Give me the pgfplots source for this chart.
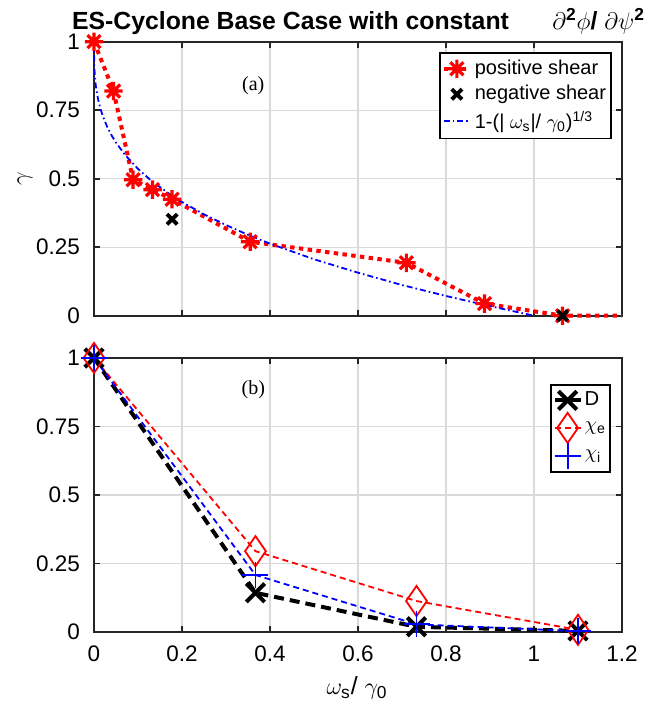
\documentclass[border=0pt]{standalone}
\usepackage{amsmath}
\usepackage{fontspec}
\setmainfont{Liberation Sans}
\newfontfamily\serifface{Liberation Serif}
\usepackage{pgfplots}
\pgfplotsset{compat=1.18}

% eight-armed asterisk (plus and cross combined)
\pgfdeclareplotmark{star8}{%
  \pgfpathmoveto{\pgfqpoint{-\pgfplotmarksize}{0pt}}\pgfpathlineto{\pgfqpoint{\pgfplotmarksize}{0pt}}%
  \pgfpathmoveto{\pgfqpoint{0pt}{-\pgfplotmarksize}}\pgfpathlineto{\pgfqpoint{0pt}{\pgfplotmarksize}}%
  \pgfpathmoveto{\pgfqpoint{-.707\pgfplotmarksize}{-.707\pgfplotmarksize}}\pgfpathlineto{\pgfqpoint{.707\pgfplotmarksize}{.707\pgfplotmarksize}}%
  \pgfpathmoveto{\pgfqpoint{-.707\pgfplotmarksize}{.707\pgfplotmarksize}}\pgfpathlineto{\pgfqpoint{.707\pgfplotmarksize}{-.707\pgfplotmarksize}}%
  \pgfusepathqstroke}
% tall open diamond
\pgfdeclareplotmark{tdiamond}{%
  \pgfpathmoveto{\pgfqpoint{0pt}{1.45\pgfplotmarksize}}%
  \pgfpathlineto{\pgfqpoint{\pgfplotmarksize}{0pt}}%
  \pgfpathlineto{\pgfqpoint{0pt}{-1.45\pgfplotmarksize}}%
  \pgfpathlineto{\pgfqpoint{-\pgfplotmarksize}{0pt}}%
  \pgfpathclose\pgfusepathqstroke}

\pgfplotsset{
  panel/.style={
    scale only axis, width=264pt, height=137pt,
    xmin=0, xmax=1.2, ymin=0, ymax=1,
    xtick={0,0.2,0.4,0.6,0.8,1,1.2},
    ytick={0,0.25,0.5,0.75,1},
    grid=major,
    major grid style={black!15, line width=0.6pt},
    axis line style={black!85, line width=1pt},
    tick style={black!85, line width=0.8pt},
    tick align=inside, major tick length=3pt,
    ticklabel style={font=\fontsize{11.25}{13}\selectfont},
    yticklabel style={xshift=-3.5pt},
    xticklabel style={yshift=-3.5pt},
    /pgf/number format/assume math mode=true,
    clip=false,
    legend cell align=left,
    legend image code/.code={%
      \draw[mark indices={2},##1] plot coordinates {(0pt,0pt) (6.5pt,0pt) (13pt,0pt)};},
  },
}

\begin{document}
\begin{tikzpicture}
\path[use as bounding box] (-47pt,-196.65pt) rectangle (288pt,157.85pt);

% ---- panel (a): growth rate against shearing rate
\begin{axis}[panel, at={(0pt,0pt)}, anchor=south west,
  xticklabels={},
  legend style={at={(0.981,0.962)}, anchor=north east, draw=black, line width=0.9pt,
    font=\fontsize{10}{13.5}\selectfont, inner xsep=1pt, inner ysep=1.5pt, fill=white,
    nodes={inner xsep=1.5pt}},
]
\addplot[red, line width=2pt, dash pattern=on 2.2pt off 2.2pt,
  mark=star8, mark size=4.6pt, mark indices={1,2,3,4,5,6,7,8,9},
  mark options={solid, line width=1.6pt}]
  coordinates {(0,1) (0.0444,0.82) (0.0888,0.496) (0.1331,0.46) (0.1775,0.425)
    (0.355,0.27) (0.71,0.193) (0.8875,0.044) (1.065,0) (1.2,0)};
\addlegendentry{positive shear}
\addplot[black, only marks, mark=x, mark size=3.6pt, mark options={line width=2pt}]
  coordinates {(0.1775,0.352) (1.065,0)};
\addlegendentry{negative shear}
\addplot[blue, line width=0.9pt, dash pattern=on 3pt off 1.5pt on 0.8pt off 1.5pt]
  coordinates {(0,1) (0.0005,0.921) (0.001,0.9) (0.002,0.874) (0.004,0.841)
    (0.007,0.809) (0.01,0.785) (0.015,0.753) (0.02,0.729) (0.03,0.689)
    (0.04,0.658) (0.05,0.632) (0.07,0.588) (0.1,0.536) (0.13,0.493)
    (0.17,0.446) (0.2,0.415) (0.25,0.370) (0.3,0.331) (0.35,0.295)
    (0.4,0.263) (0.5,0.206) (0.6,0.157) (0.7,0.112) (0.8,0.072)
    (0.9,0.035) (1.0,0)};
\addlegendentry{1-(| $\omega_{\text{s}}$|/ $\gamma_{\text{0}}$)$^{\text{1/3}}$}
\node[font=\serifface\fontsize{10}{12}\selectfont] at (axis cs:0.362,0.84) {(a)};
\end{axis}

% ---- panel (b): normalised transport coefficients
\begin{axis}[panel, at={(0pt,-158.15pt)}, anchor=south west,
  legend style={at={(0.979,0.905)}, anchor=north east, draw=black, line width=0.9pt,
    font=\fontsize{10.1}{16.5}\selectfont, inner xsep=1pt, inner ysep=1.5pt, fill=white,
    nodes={inner xsep=1pt}},
]
\addplot[black, line width=2pt, dash pattern=on 5pt off 3pt,
  mark=x, mark size=6.5pt, mark options={solid, line width=2pt}]
  coordinates {(0,1) (0.367,0.143) (0.733,0.019) (1.1,0.004)};
\addlegendentry{D}
\addplot[red, line width=0.9pt, dash pattern=on 3pt off 2pt,
  mark=tdiamond, mark size=5.2pt, mark options={solid, line width=0.9pt}]
  coordinates {(0,1) (0.367,0.295) (0.733,0.113) (1.1,0.008)};
\addlegendentry{$\chi_{\text{e}}$}
\addplot[blue, line width=0.9pt, dash pattern=on 3pt off 2pt,
  mark=+, mark size=6.5pt, mark options={solid, line width=0.9pt}]
  coordinates {(0,1) (0.367,0.208) (0.733,0.028) (1.1,0.003)};
\addlegendentry{$\chi_{\text{i}}$}
\node[font=\serifface\fontsize{10}{12}\selectfont] at (axis cs:0.362,0.885) {(b)};
\end{axis}

% titles and axis labels
\node[anchor=base west, font=\fontsize{12.4}{14}\selectfont\bfseries] at (-14.5pt,143.35pt)
  {ES-Cyclone Base Case with constant};
\node[anchor=base east, font=\fontsize{12.4}{14}\selectfont] at (279pt,143.35pt)
  {$\partial^{\textbf{2}}\phi$\textbf{/} $\partial\psi^{\textbf{2}}$};
\node[rotate=90, font=\fontsize{12.4}{14}\selectfont] at (-34.5pt,68.35pt) {$\gamma$};
\node[font=\fontsize{12.4}{14}\selectfont] at (131.5pt,-186.15pt)
  {$\omega_{\text{s}}$/ $\gamma_{\text{0}}$};
\end{tikzpicture}
\end{document}
